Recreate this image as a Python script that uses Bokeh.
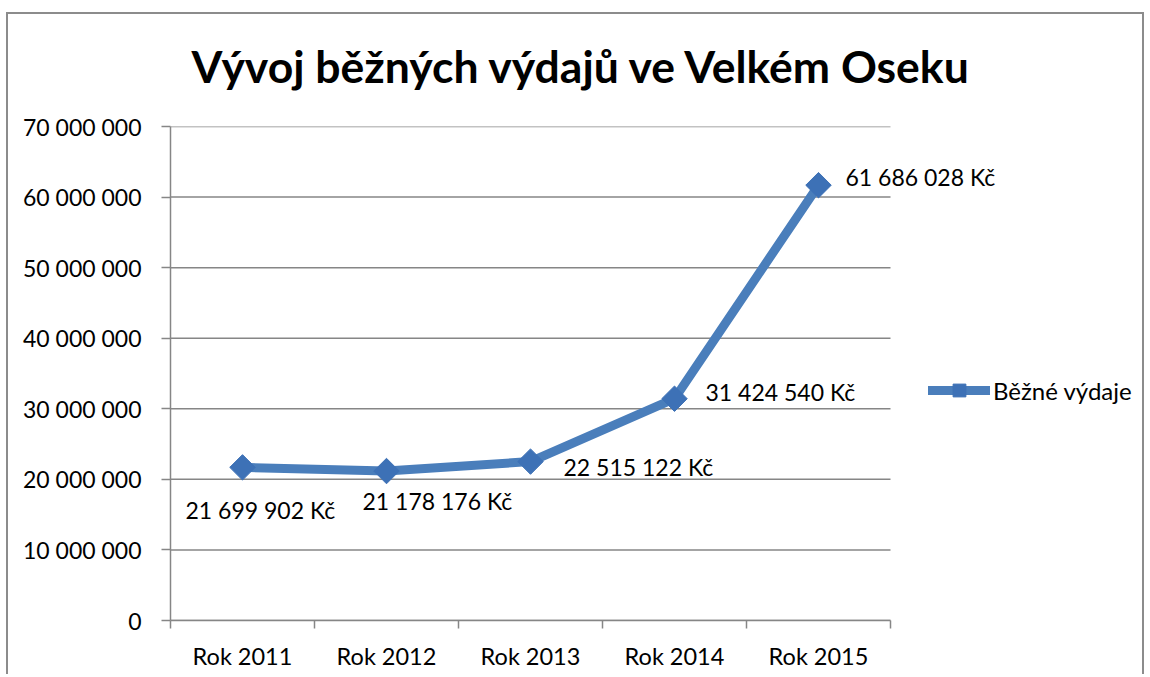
import math
from bokeh.plotting import figure
from bokeh.models import (ColumnDataSource, Range1d, FixedTicker, CustomJSTickFormatter,
                          LabelSet, Legend, LegendItem, Title)
from bokeh.core.properties import value
from bokeh.embed import file_html
from bokeh.resources import INLINE

# ---- data ----
categories = ["Rok 2011", "Rok 2012", "Rok 2013", "Rok 2014", "Rok 2015"]
values = [21699902, 21178176, 22515122, 31424540, 61686028]
y_ticks = [0, 10000000, 20000000, 30000000, 40000000, 50000000, 60000000, 70000000]
series_name = "Běžné výdaje"
title_text = "Vývoj běžných výdajů ve Velkém Oseku"

# label placement (screen px, relative to each point)
label_dx = [-57, -24, 33, 31, 27]
label_dy = [-43, -30, -5, 7, 8]

FONT = "Lato"
GRID = "#868686"
LINE = "#4A7EBB"
MARK = "#3D71B6"

# layout (px)
W, H = 1138, 662
MB_L, MB_R, MB_T, MB_B = 162, 2, 112, 56
DATA_W = 720  # width used by the categories inside the frame
frame_w = W - MB_L - MB_R
x_max = len(categories) * frame_w / DATA_W

def fmt(v):
    return f"{v:,}".replace(",", " ") + " Kč"

xs = [i + 0.5 for i in range(len(categories))]
src = ColumnDataSource(dict(x=xs, y=values, label=[fmt(v) for v in values],
                            dx=label_dx, dy=label_dy))
grid_src = ColumnDataSource(dict(x0=[0] * len(y_ticks), x1=[len(categories)] * len(y_ticks),
                                 y=y_ticks))

p = figure(width=W, height=H, output_backend="svg", toolbar_location=None,
           x_range=Range1d(0, x_max), y_range=Range1d(0, y_ticks[-1]),
           min_border_left=MB_L, min_border_right=MB_R, min_border_top=MB_T,
           min_border_bottom=MB_B)
p.styles = {"margin-left": "6px", "margin-top": "12px",
            "border-top": "2px solid #8c8c8c", "border-left": "2px solid #8c8c8c",
            "border-right": "2px solid #8c8c8c"}

# white spacer (closest to the frame) + real title above it
p.add_layout(Title(text=" ", text_font_size="10px", standoff=22, text_color="white"), "above")
p.add_layout(Title(text=title_text, text_font=FONT, text_font_style="bold",
                   text_font_size="44.5px", text_color="black", align="left",
                   offset=21, standoff=0), "above")

p.outline_line_color = None
p.xgrid.grid_line_color = None
p.ygrid.grid_line_color = None

p.segment(x0="x0", x1="x1", y0="y", y1="y", source=grid_src, line_color=GRID,
          line_width=1.5)

# y axis
p.yaxis.ticker = FixedTicker(ticks=y_ticks)
p.yaxis.formatter = CustomJSTickFormatter(
    code="return Math.round(tick).toString().replace(/\\B(?=(\\d{3})+(?!\\d))/g, ' ');")
p.yaxis.axis_line_color = GRID
p.yaxis.axis_line_width = 1.5
p.yaxis.major_tick_line_color = GRID
p.yaxis.major_tick_line_width = 1.5
p.yaxis.major_tick_out = 9
p.yaxis.major_tick_in = 0
p.yaxis.minor_tick_line_color = None
p.yaxis.major_label_standoff = 20
p.yaxis.major_label_text_font = FONT
p.yaxis.major_label_text_font_size = "23px"
p.yaxis.major_label_text_color = "black"

# x axis: labels at category centres, ticks at boundaries
p.xaxis.bounds = (0, len(categories))
p.xaxis.ticker = FixedTicker(ticks=xs, minor_ticks=list(range(len(categories) + 1)))
p.xaxis.major_label_overrides = {x: c for x, c in zip(xs, categories)}
p.xaxis.axis_line_color = GRID
p.xaxis.axis_line_width = 1.5
p.xaxis.major_tick_line_color = None
p.xaxis.major_tick_out = 0
p.xaxis.major_tick_in = 0
p.xaxis.minor_tick_line_color = GRID
p.xaxis.minor_tick_line_width = 1.5
p.xaxis.minor_tick_out = 8
p.xaxis.minor_tick_in = 0
p.xaxis.major_label_standoff = 13
p.xaxis.major_label_text_font = FONT
p.xaxis.major_label_text_font_size = "23.5px"
p.xaxis.major_label_text_color = "black"

ln = p.line("x", "y", source=src, line_color=LINE, line_width=9, line_join="round",
            line_cap="round")
mk = p.scatter("x", "y", source=src, marker="square", angle=math.pi / 4, size=18,
               fill_color=MARK, line_color=MARK)

labels = LabelSet(x="x", y="y", text="label", source=src, x_offset="dx", y_offset="dy",
                  text_font=value(FONT), text_font_size="23px", text_color="black",
                  text_align="left", text_baseline="middle")
p.add_layout(labels)

legend = Legend(items=[LegendItem(label=series_name, renderers=[ln, mk])],
                location=(758, 214), glyph_width=62, glyph_height=32, label_standoff=3,
                padding=0, margin=0, border_line_color=None, background_fill_alpha=0,
                label_text_font=FONT, label_text_font_size="24px", label_text_color="black")
p.add_layout(legend)

open("out.html", "w").write(file_html(p, INLINE))
